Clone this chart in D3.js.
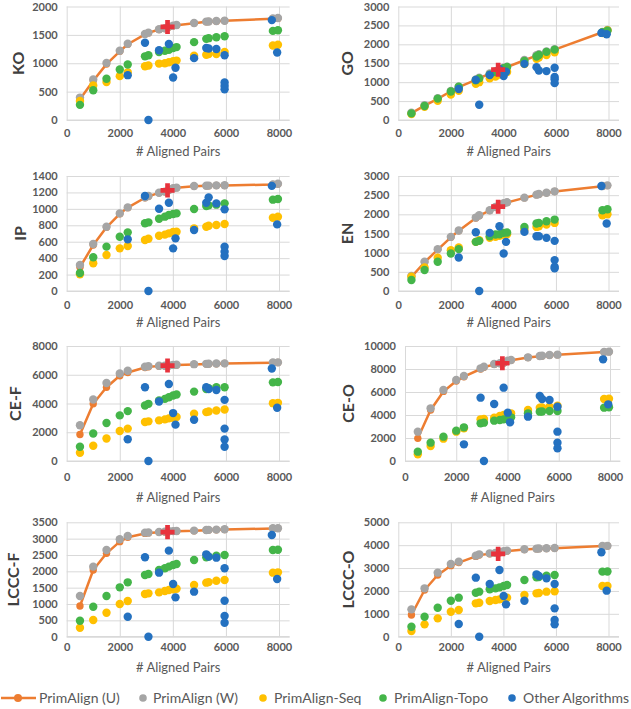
<!DOCTYPE html>
<html><head><meta charset="utf-8">
<script src="https://cdn.jsdelivr.net/npm/d3@7"></script>
<style>
html,body{margin:0;padding:0;background:#fff;}
svg{display:block;font-family:Lato,"Open Sans",sans-serif;}
</style></head>
<body>
<svg id="chart" width="631" height="709"></svg>
<script>
// ---------- DATA ----------
const seriesNames = ["PrimAlign (U)", "PrimAlign (W)", "PrimAlign-Seq", "PrimAlign-Topo", "Other Algorithms"];
const xTicks = [0, 2000, 4000, 6000, 8000];
const pairsPrim = [500,1000,1500,2000,2300,2950,3080,3480,3700,3850,4010,4140,4800,5260,5350,5640,5950,7770,7960];
const pairsOther = [2300,2950,3080,3480,3850,4010,4100,4800,5260,5350,5640,5950,5950,5950,5950,7730,7930];
const crossPairs = 3800;

const koU    = [366,690,985,1210,1335,1510,1535,1595,1612,1640,1660,1670,1705,1730,1735,1742,1748,1785,1790];
const koW    = [395,715,1006,1221,1343,1517,1540,1600,1616,1645,1663,1674,1709,1733,1737,1744,1750,1790,1797];
const koSeq  = [337,610,669,773,840,948,960,994,1000,1017,1035,1047,1134,1151,1163,1163,1198,1314,1326];
const koTopo = [267,523,727,890,977,1122,1140,1198,1221,1238,1267,1285,1372,1430,1442,1459,1477,1570,1581];
const koOther= [790,1360,0,1230,1340,750,920,1090,1270,1260,1250,1140,660,540,600,1760,1190];
const koCross = 1640;

const goU    = [180,380,560,760,870,1060,1110,1220,1280,1320,1370,1400,1580,1700,1730,1800,1860,2320,2370];
const goW    = [190,390,575,770,880,1070,1120,1230,1290,1330,1380,1410,1590,1710,1740,1810,1870,2330,2380];
const goSeq  = [160,350,510,670,770,960,1000,1100,1150,1200,1240,1270,1480,1620,1650,1720,1790,2300,2370];
const goTopo = [175,370,565,755,880,1050,1100,1200,1270,1320,1370,1400,1560,1680,1720,1800,1860,2320,2360];
const goOther= [820,1060,405,1190,1350,1164,1276,1483,1397,1310,1293,1380,1138,1078,974,2302,2267];
const goCross = 1330;

const ipU    = [290,560,775,940,1015,1135,1152,1195,1208,1227,1248,1256,1276,1280,1281,1284,1285,1296,1302];
const ipW    = [316,572,783,945,1018,1140,1156,1197,1210,1229,1250,1258,1278,1282,1283,1286,1287,1298,1306];
const ipSeq  = [203,337,438,519,548,621,637,673,686,702,718,722,763,783,795,803,815,892,905];
const ipTopo = [219,410,540,661,714,824,836,880,905,925,937,945,998,1035,1043,1051,1067,1112,1120];
const ipOther= [629,1156,0,1002,1075,519,641,742,1075,1140,1067,994,540,479,426,1280,811];
const ipCross = 1225;

const enU    = [370,750,1080,1400,1570,1905,1965,2100,2185,2238,2282,2308,2430,2508,2525,2560,2595,2732,2750];
const enW    = [390,762,1092,1412,1577,1915,1976,2106,2192,2244,2288,2314,2435,2513,2530,2565,2600,2738,2756];
const enSeq  = [373,615,867,1066,1135,1282,1326,1386,1412,1438,1464,1481,1603,1672,1690,1733,1776,1976,2001];
const enTopo = [286,546,763,979,1092,1282,1308,1430,1473,1481,1516,1525,1672,1759,1776,1820,1863,2106,2132];
const enOther= [875,1534,0,1516,1690,979,1282,1542,1430,1430,1386,1308,806,633,590,2738,1759];
const enCross = 2200;

const cefU    = [1839,3977,5126,5931,6161,6500,6560,6600,6615,6630,6670,6680,6720,6745,6750,6770,6780,6840,6850];
const cefW    = [2483,4276,5425,6092,6276,6552,6598,6621,6630,6644,6690,6695,6736,6759,6765,6782,6790,6851,6860];
const cefSeq  = [575,1057,1563,2092,2253,2713,2759,2828,2897,2966,3011,3057,3287,3402,3448,3517,3586,4023,4046];
const cefTopo = [989,1908,2644,3172,3471,3862,3977,4207,4322,4437,4552,4621,4828,5011,5057,5126,5126,5471,5494];
const cefOther= [1517,5126,0,4138,5356,3333,2529,2874,5126,5011,4943,4253,2253,1494,989,6437,3701];
const cefCross = 6640;

const ceoU    = [1971,4435,6050,6950,7330,8000,8150,8400,8470,8520,8700,8760,9000,9115,9135,9205,9235,9470,9500];
const ceoW    = [2551,4580,6174,7043,7391,8058,8203,8435,8500,8551,8725,8783,9014,9130,9150,9217,9246,9478,9507];
const ceoSeq  = [580,1304,1942,2551,2841,3623,3652,3768,3913,4000,4087,4145,4435,4638,4650,4725,4812,5391,5420];
const ceoTopo = [812,1594,2116,2638,2928,3275,3333,3507,3565,3623,3710,3797,4145,4290,4300,4348,4348,4638,4667];
const ceoOther= [1449,5507,0,4957,6377,4203,3362,3855,5652,5391,5304,4725,2551,1594,1101,8841,4928];
const ceoCross = 8500;

const lccfU    = [939,2041,2551,2908,3041,3160,3175,3195,3205,3215,3222,3228,3240,3260,3262,3270,3280,3310,3315];
const lccfW    = [1245,2143,2653,2980,3082,3184,3190,3204,3214,3224,3230,3235,3245,3265,3268,3275,3286,3316,3320];
const lccfSeq  = [276,510,735,1000,1092,1306,1327,1357,1398,1429,1449,1469,1582,1653,1670,1714,1735,1959,1969];
const lccfTopo = [490,918,1245,1510,1663,1888,1918,2041,2092,2143,2194,2224,2347,2429,2449,2480,2500,2653,2660];
const lccfOther= [612,2429,0,1959,2633,1612,1204,1378,2520,2449,2418,2092,1102,633,429,3112,1765];
const lccfCross = 3200;

const lccoU    = [948,2041,2697,3105,3240,3510,3570,3620,3645,3670,3715,3745,3810,3840,3848,3855,3870,3960,3965];
const lccoW    = [1195,2114,2799,3178,3280,3542,3600,3644,3665,3688,3732,3761,3819,3848,3855,3863,3878,3965,3970];
const lccoSeq  = [248,539,802,1093,1166,1458,1487,1560,1603,1633,1676,1706,1822,1895,1910,1968,1983,2216,2220];
const lccoTopo = [437,875,1268,1574,1706,1924,1968,2070,2114,2157,2216,2259,2478,2595,2610,2668,2697,2843,2850];
const lccoOther= [554,2580,0,2303,2915,1778,1414,1574,2726,2653,2551,2303,1239,729,539,3688,2012];
const lccoCross = 3620;

const panelTitles = ["KO","GO","IP","EN","CE-F","CE-O","LCCC-F","LCCC-O"];
const yMaxes = [2000,3000,1400,3000,8000,10000,3500,5000];
const yTickSteps = [500,500,200,500,2000,2000,500,1000];
const xAxisTitle = "# Aligned Pairs";

// ---------- LAYOUT / STYLE ----------
const colors = ["#ED7D31","#A5A5A5","#FFC000","#44B549","#2471C0"];
const crossColor = "#E8323C";
const layout = [
  {x0:66.7, x8:279,   top:6.5,   bottom:120,   lab:133, tit:151, tx:18},
  {x0:398.3,x8:608.5, top:6.5,   bottom:120,   lab:133, tit:151, tx:347},
  {x0:66.7, x8:279,   top:176,   bottom:291,   lab:305, tit:322, tx:20},
  {x0:398.3,x8:608.5, top:176,   bottom:291,   lab:305, tit:322, tx:347},
  {x0:66.7, x8:279,   top:346,   bottom:461,   lab:477, tit:497, tx:15},
  {x0:405,  x8:610,   top:346,   bottom:461,   lab:477, tit:497, tx:348},
  {x0:66.7, x8:279,   top:522.3, bottom:636.7, lab:647, tit:667, tx:13},
  {x0:398.3,x8:608.5, top:522.3, bottom:636.7, lab:647, tit:667, tx:348}
];

const panelData = [
  [koU,koW,koSeq,koTopo,koOther,koCross],
  [goU,goW,goSeq,goTopo,goOther,goCross],
  [ipU,ipW,ipSeq,ipTopo,ipOther,ipCross],
  [enU,enW,enSeq,enTopo,enOther,enCross],
  [cefU,cefW,cefSeq,cefTopo,cefOther,cefCross],
  [ceoU,ceoW,ceoSeq,ceoTopo,ceoOther,ceoCross],
  [lccfU,lccfW,lccfSeq,lccfTopo,lccfOther,lccfCross],
  [lccoU,lccoW,lccoSeq,lccoTopo,lccoOther,lccoCross]
];

const svg = d3.select("#chart");
const R = 4.2;
const gridColor = "#d9d9d9";
const labelColor = "#595959";
const fmt = d3.format("d");

panelData.forEach((pd, i) => {
  const L = layout[i];
  const [U,W,S,T,O,C] = pd;
  const x = d3.scaleLinear().domain([0,8000]).range([L.x0, L.x8]);
  const xRight = x(8400);
  const y = d3.scaleLinear().domain([0,yMaxes[i]]).range([L.bottom, L.top]);
  const yTicks = d3.range(0, yMaxes[i] + 1, yTickSteps[i]);
  const g = svg.append("g");

  const ya = g.append("g").attr("transform",`translate(${L.x0},0)`)
    .call(d3.axisLeft(y).tickValues(yTicks).tickFormat(fmt).tickSize(-(xRight-L.x0)).tickPadding(9));
  ya.select(".domain").remove();
  ya.selectAll("line").attr("stroke",gridColor).attr("stroke-width",1);
  ya.selectAll("text").attr("fill",labelColor).attr("font-size",11).attr("font-weight","bold")
    .attr("font-family","Lato");

  const xa = g.append("g").attr("transform",`translate(0,${L.bottom})`)
    .call(d3.axisBottom(x).tickValues(xTicks).tickFormat(fmt).tickSize(-(L.bottom-L.top)));
  xa.select(".domain").remove();
  xa.selectAll("line").attr("stroke",gridColor).attr("stroke-width",1);
  xa.selectAll("text").attr("fill",labelColor).attr("font-size",11).attr("font-weight","bold")
    .attr("font-family","Lato").attr("y", L.lab - L.bottom).attr("dy","0.35em");
  g.append("line").attr("x1",L.x0).attr("x2",xRight).attr("y1",L.bottom).attr("y2",L.bottom)
    .attr("stroke",gridColor).attr("stroke-width",1.2);

  g.append("text").attr("x",(L.x0+xRight)/2).attr("y",L.tit).attr("dy","0.35em")
    .attr("text-anchor","middle").attr("font-size",13).attr("fill",labelColor).text(xAxisTitle);
  g.append("text").attr("transform",`translate(${L.tx},${(L.top+L.bottom)/2}) rotate(-90)`)
    .attr("text-anchor","middle").attr("dy","0.35em").attr("font-size",16).attr("font-weight","bold")
    .attr("fill","#404040").text(panelTitles[i]);

  const line = d3.line().x((d,k)=>x(pairsPrim[k])).y(d=>y(d));
  g.append("path").datum(U).attr("d",line).attr("fill","none").attr("stroke",colors[0])
    .attr("stroke-width",2.5).attr("stroke-linejoin","round");
  g.append("g").selectAll("circle").data(U).join("circle")
    .attr("cx",(d,k)=>x(pairsPrim[k])).attr("cy",d=>y(d)).attr("r",R-0.5).attr("fill",colors[0]);

  [W,S,T].forEach((arr, si) => {
    g.append("g").selectAll("circle").data(arr).join("circle")
      .attr("cx",(d,k)=>x(pairsPrim[k])).attr("cy",d=>y(d)).attr("r",R).attr("fill",colors[si+1]);
  });
  g.append("g").selectAll("circle").data(O).join("circle")
    .attr("cx",(d,k)=>x(pairsOther[k])).attr("cy",d=>y(d)).attr("r",R).attr("fill",colors[4]);

  g.append("path").attr("d",d3.symbol(d3.symbolCross,110)())
    .attr("transform",`translate(${x(crossPairs)},${y(C)})`).attr("fill",crossColor);
});

// ---------- LEGEND ----------
const legY = 698;
const legItems = [
  {tx:39, dot:null},
  {tx:153, dot:143},
  {tx:274, dot:263},
  {tx:394, dot:383},
  {tx:523, dot:512}
];
const lg = svg.append("g");
lg.append("line").attr("x1",1).attr("x2",36).attr("y1",legY).attr("y2",legY)
  .attr("stroke",colors[0]).attr("stroke-width",2.5);
lg.append("circle").attr("cx",18).attr("cy",legY).attr("r",4).attr("fill",colors[0]);
legItems.forEach((it, k) => {
  if (it.dot !== null) lg.append("circle").attr("cx",it.dot).attr("cy",legY).attr("r",3.8).attr("fill",colors[k]);
  lg.append("text").attr("x",it.tx).attr("y",legY).attr("dy","0.35em").attr("font-size",14)
    .attr("fill",labelColor).text(seriesNames[k]);
});
</script>
</body></html>
